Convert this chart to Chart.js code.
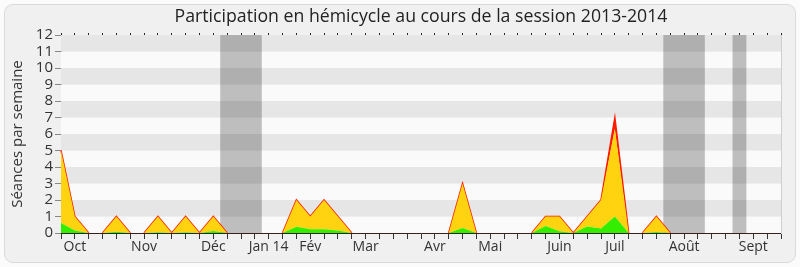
<!DOCTYPE html>
<html>
<head>
<meta charset="utf-8">
<script src="https://cdn.jsdelivr.net/npm/chart.js@4.4.1/dist/chart.umd.min.js"></script>
<style>
  body { margin: 0; background: #fbfbfb; }
  .frame { position: absolute; left: 4px; top: 4px; width: 790px; height: 257px; border: 1px solid #dadada; border-radius: 9px; background: #f0f0f0; }
  #chart { position: absolute; left: 0; top: 0; }
</style>
</head>
<body>
<div class="frame"></div>
<canvas id="chart" width="800" height="267"></canvas>
<script>
// one point per week of the session (Oct 2013 -> Sept 2014)
const monthNames = ['Oct', 'Nov', 'Déc', 'Jan 14', 'Fév', 'Mar', 'Avr', 'Mai', 'Juin', 'Juil', 'Août', 'Sept'];
const monthWeeks = [1, 6, 11, 15, 18, 22, 27, 31, 36, 40, 45, 50];

// green part (bottom of the stack)
const greenValues = [0.6, 0.15, 0, 0, 0.08, 0, 0, 0.05, 0, 0.05, 0, 0.12, 0, 0, 0, 0, 0,
  0.38, 0.22, 0.22, 0.15, 0, 0, 0, 0, 0, 0, 0, 0, 0.3, 0, 0, 0, 0, 0,
  0.42, 0.1, 0, 0.4, 0.27, 1.0, 0, 0, 0.06, 0, 0, 0, 0, 0, 0, 0, 0, 0];
// yellow part
const yellowValues = [4.4, 0.85, 0, 0, 0.92, 0, 0, 0.95, 0, 0.95, 0, 0.88, 0, 0, 0, 0, 0,
  1.62, 0.78, 1.78, 0.85, 0, 0, 0, 0, 0, 0, 0, 0, 2.7, 0, 0, 0, 0, 0,
  0.58, 0.9, 0, 0.6, 1.73, 5.3, 0, 0, 0.94, 0, 0, 0, 0, 0, 0, 0, 0, 0];
// red part (top of the stack)
const redValues = [0, 0, 0, 0, 0, 0, 0, 0, 0, 0, 0, 0, 0, 0, 0, 0, 0,
  0, 0, 0, 0, 0, 0, 0, 0, 0, 0, 0, 0, 0, 0, 0, 0, 0, 0,
  0, 0, 0, 0, 0, 0.7, 0, 0, 0, 0, 0, 0, 0, 0, 0, 0, 0, 0];

// parliamentary holidays, in weeks
const holidayStart = [11.5, 43.5, 48.5];
const holidayEnd = [14.5, 46.5, 49.5];

const weekLabels = greenValues.map((v, i) => {
  const m = monthWeeks.indexOf(i);
  return m >= 0 ? monthNames[m] : '';
});
const totals = greenValues.map((v, i) => v + yellowValues[i] + redValues[i]);

const FONT = "'Open Sans', sans-serif";
Chart.defaults.font.family = FONT;

// striped background + grey holiday bands
const backdrop = {
  id: 'backdrop',
  beforeDatasetsDraw(chart) {
    const { ctx, chartArea, scales } = chart;
    const y = scales.y, x = scales.x;
    ctx.save();
    for (let v = 0; v < 12; v++) {
      const top = y.getPixelForValue(v + 1), bottom = y.getPixelForValue(v);
      ctx.fillStyle = v % 2 ? '#e6e6e6' : '#fafafa';
      ctx.fillRect(chartArea.left, top, chartArea.right - chartArea.left, bottom - top);
    }
    ctx.fillStyle = 'rgba(0,0,0,0.24)';
    holidayStart.forEach((s, i) => {
      const l = x.getPixelForValue(s), r = x.getPixelForValue(holidayEnd[i]);
      ctx.fillRect(l, chartArea.top, r - l, chartArea.bottom - chartArea.top);
    });
    ctx.restore();
  }
};

new Chart(document.getElementById('chart'), {
  type: 'line',
  data: {
    labels: weekLabels,
    datasets: [
      { data: greenValues, backgroundColor: '#33ee00', borderWidth: 0, fill: 'origin' },
      { data: yellowValues, backgroundColor: '#ffd310', borderWidth: 0, fill: '-1' },
      {
        data: redValues, backgroundColor: '#ff1a00', borderColor: '#ff1a00', borderWidth: 1.5, fill: '-1',
        segment: {
          borderColor: c => (totals[c.p0DataIndex] === 0 && totals[c.p1DataIndex] === 0) ? 'rgba(0,0,0,0)' : '#ff1a00'
        }
      }
    ]
  },
  options: {
    responsive: false,
    animation: false,
    layout: { padding: { left: 0, right: 19, top: 0, bottom: 0 } },
    elements: { point: { radius: 0 }, line: { tension: 0 } },
    plugins: {
      legend: { display: false },
      tooltip: { enabled: false },
      title: {
        display: true,
        fullSize: false,
        text: 'Participation en hémicycle au cours de la session 2013-2014',
        font: { size: 17.7, weight: 'normal', family: FONT },
        color: '#222',
        padding: { top: 6, bottom: 5.8 }
      }
    },
    scales: {
      x: {
        type: 'category',
        offset: false,
        grid: { drawOnChartArea: false, tickLength: 6, color: '#333' },
        border: { color: '#3b1f1f' },
        ticks: { autoSkip: false, maxRotation: 0, padding: 0, font: { size: 14 }, color: '#333' },
        afterFit: s => { s.height = 34; }
      },
      xTop: {
        type: 'category',
        position: 'top',
        offset: false,
        grid: { drawOnChartArea: false, tickLength: 2, color: '#222' },
        border: { display: false },
        ticks: { display: false },
        afterFit: s => { s.height = 2; }
      },
      y: {
        stacked: true,
        min: 0,
        max: 12,
        ticks: { stepSize: 1, autoSkip: false, font: { size: 15 }, color: '#333', padding: 2 },
        grid: { drawOnChartArea: false, tickLength: 6, color: '#888' },
        border: { color: '#222' },
        title: { display: true, text: 'Séances par semaine', font: { size: 15 }, color: '#333', padding: { top: 9, bottom: 0 } },
        afterFit: s => { s.width = 61; }
      },
      yRight: {
        position: 'right',
        min: 0,
        max: 12,
        grid: { display: false },
        border: { color: '#cfcfcf' },
        ticks: { display: false },
        afterFit: s => { s.width = 0; }
      }
    }
  },
  plugins: [backdrop]
});
</script>
</body>
</html>
